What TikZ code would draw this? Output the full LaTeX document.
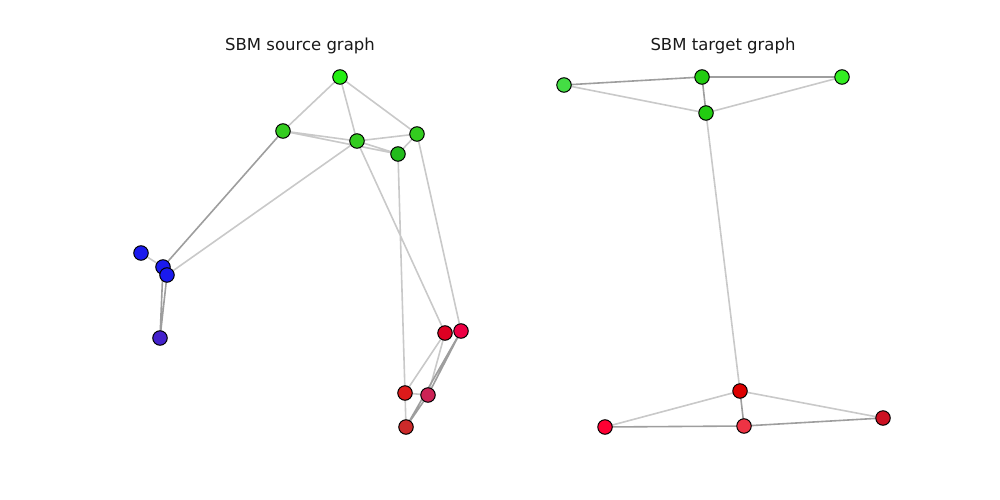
\documentclass[tikz,border=0pt]{standalone}
\usepackage{fontspec}
\setmainfont{DejaVu Sans}
\begin{document}
\begin{tikzpicture}[x=1pt,y=-1pt,
  vtx/.style={circle,draw=black,line width=1pt,minimum size=14.5pt,inner sep=0pt},
  lite/.style={draw=black!21,line width=1.6pt},
  dark/.style={draw=black!38,line width=1.6pt},
  ttl/.style={font=\fontsize{16.5}{18}\selectfont,text=black!90}]
\useasboundingbox (0,0) rectangle (1000,500);
\definecolor{ga}{HTML}{22EE11}
\definecolor{gb}{HTML}{33CC1F}
\definecolor{gc}{HTML}{22BB1C}
\definecolor{ba}{HTML}{1A1AEE}
\definecolor{bb}{HTML}{4422CC}
\definecolor{ra}{HTML}{DD0022}
\definecolor{rb}{HTML}{EE0044}
\definecolor{rc}{HTML}{DD1A1A}
\definecolor{rd}{HTML}{CC2255}
\definecolor{re}{HTML}{CC2A2A}
\definecolor{ta}{HTML}{44DD44}
\definecolor{tb}{HTML}{22CC11}
\definecolor{tc}{HTML}{33EE22}
\definecolor{td}{HTML}{22CC11}
\definecolor{te}{HTML}{DD0000}
\definecolor{tf}{HTML}{FF0033}
\definecolor{tg}{HTML}{EE3344}
\definecolor{th}{HTML}{CC1122}

\node[ttl] (t1) at (300,46) {SBM source graph};
\node[ttl] (t2) at (723,46) {SBM target graph};

% source graph nodes (coordinates only first)
\coordinate (G1) at (340,77);
\coordinate (G2) at (283,131);
\coordinate (G3) at (357,141);
\coordinate (G4) at (417,134);
\coordinate (G5) at (398,154);
\coordinate (B1) at (141,253);
\coordinate (B2) at (163,267);
\coordinate (B3) at (167,275);
\coordinate (B4) at (160,338);
\coordinate (R1) at (445,333);
\coordinate (R2) at (461,331);
\coordinate (R3) at (405,393);
\coordinate (R4) at (428,395);
\coordinate (R5) at (406,427);

\draw[lite] (G1)--(G2) (G1)--(G3) (G1)--(G4) (G2)--(G3) (G2)--(G5)
  (G3)--(G4) (G3)--(G5) (G4)--(G5) (G3)--(B3) (G3)--(R1) (G4)--(R2) (G5)--(R3)
  (R1)--(R3) (R1)--(R4) (R3)--(R4) (R3)--(R5) (B1)--(B2);
\draw[dark] (G2)--(B2) (B2)--(B4) (B3)--(B4) (R2)--(R4) (R2)--(R5) (R4)--(R5);

\node[vtx,fill=ga] (g1) at (G1) {};
\node[vtx,fill=gb] (g2) at (G2) {};
\node[vtx,fill=gb] (g3) at (G3) {};
\node[vtx,fill=gb] (g4) at (G4) {};
\node[vtx,fill=gc] (g5) at (G5) {};
\node[vtx,fill=ba] (b1) at (B1) {};
\node[vtx,fill=ba] (b2) at (B2) {};
\node[vtx,fill=ba] (b3) at (B3) {};
\node[vtx,fill=bb] (b4) at (B4) {};
\node[vtx,fill=ra] (r1) at (R1) {};
\node[vtx,fill=rb] (r2) at (R2) {};
\node[vtx,fill=rc] (r3) at (R3) {};
\node[vtx,fill=rd] (r4) at (R4) {};
\node[vtx,fill=re] (r5) at (R5) {};

% target graph
\coordinate (T1) at (564,85);
\coordinate (T2) at (702,77);
\coordinate (T3) at (842,77);
\coordinate (T4) at (706,113);
\coordinate (T5) at (740,391);
\coordinate (T6) at (605,427);
\coordinate (T7) at (744,426);
\coordinate (T8) at (883,418);

\draw[lite] (T1)--(T4) (T3)--(T4) (T4)--(T5) (T5)--(T6) (T5)--(T8);
\draw[dark] (T1)--(T2) (T2)--(T3) (T2)--(T4) (T5)--(T7) (T6)--(T7) (T7)--(T8);

\node[vtx,fill=ta] (s1) at (T1) {};
\node[vtx,fill=tb] (s2) at (T2) {};
\node[vtx,fill=tc] (s3) at (T3) {};
\node[vtx,fill=td] (s4) at (T4) {};
\node[vtx,fill=te] (s5) at (T5) {};
\node[vtx,fill=tf] (s6) at (T6) {};
\node[vtx,fill=tg] (s7) at (T7) {};
\node[vtx,fill=th] (s8) at (T8) {};
\end{tikzpicture}
\end{document}
